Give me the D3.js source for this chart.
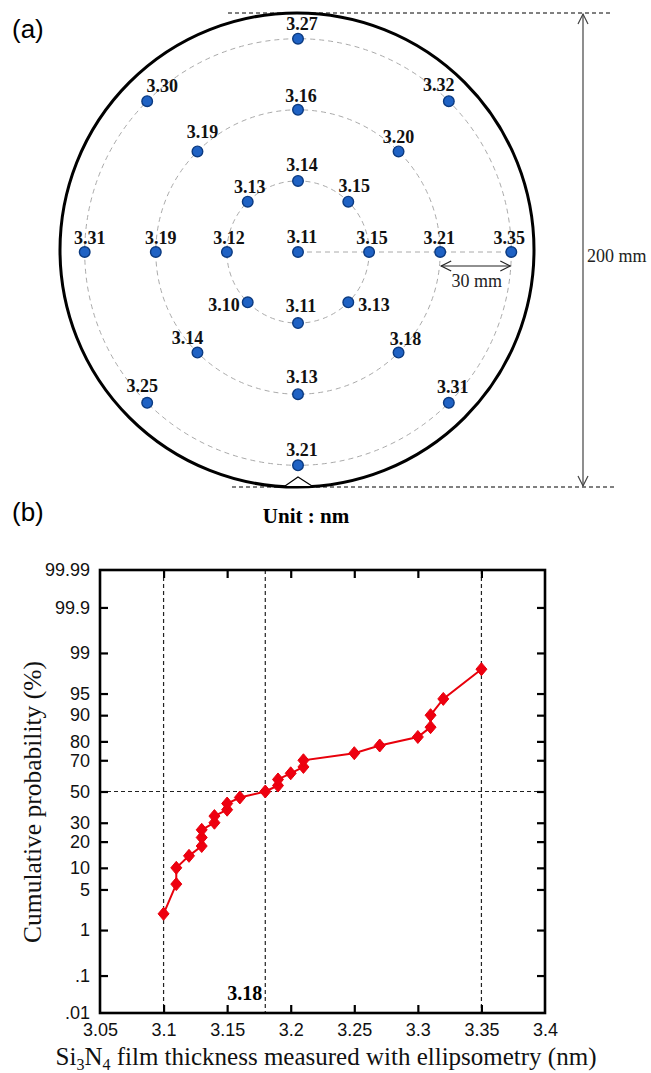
<!DOCTYPE html>
<html>
<head>
<meta charset="utf-8">
<script src="https://cdn.jsdelivr.net/npm/d3@7"></script>
<style>
  html, body { margin: 0; padding: 0; background: #fff; }
  svg { display: block; }
</style>
</head>
<body>
<svg id="chart" width="651" height="1073"></svg>
<script>
// ---------------- DATA ----------------
// (a) wafer map: measurement rings (mm from center) and angular positions (deg, CCW from east)
const ringsMM = [0, 30, 60, 90];
const anglesDeg = [90, 45, 0, -45, -90, -135, 180, 135];
const centerValues = [3.11];
const ring1Values = [3.14, 3.15, 3.15, 3.13, 3.11, 3.10, 3.12, 3.13];
const ring2Values = [3.16, 3.20, 3.21, 3.18, 3.13, 3.14, 3.19, 3.19];
const ring3Values = [3.27, 3.32, 3.35, 3.31, 3.21, 3.25, 3.31, 3.30];
const waferDiameterMM = 200;

// (b) cumulative probability plot
const thickness = [3.10, 3.11, 3.11, 3.12, 3.13, 3.13, 3.13, 3.14, 3.14, 3.15, 3.15, 3.16, 3.18,
                   3.19, 3.19, 3.20, 3.21, 3.21, 3.25, 3.27, 3.30, 3.31, 3.31, 3.32, 3.35];
const cumProb = [2, 6, 10, 14, 18, 22, 26, 30, 34, 38, 42, 46, 50,
                 54, 58, 62, 66, 70, 74, 78, 82, 86, 90, 94, 98];
const xTicks = [3.05, 3.1, 3.15, 3.2, 3.25, 3.3, 3.35, 3.4];
const xTickLabels = ["3.05", "3.1", "3.15", "3.2", "3.25", "3.3", "3.35", "3.4"];
const probTicks = [0.01, 0.1, 1, 5, 10, 20, 30, 50, 70, 80, 90, 95, 99, 99.9, 99.99];
const probTickLabels = [".01", ".1", "1", "5", "10", "20", "30", "50", "70", "80", "90", "95", "99", "99.9", "99.99"];
const refX = [3.1, 3.18, 3.35];
const refP = [50];
const medianLabel = "3.18";

// ---------------- LAYOUT (label nudges, px) ----------------
const labelNudge = [
  [[4, -9, "middle"]],
  [[4, -10, "middle"], [6, -10, "middle"], [3, -8, "middle"], [10, 9, "start"],
   [3, -11, "middle"], [-8, 9, "end"], [2, -8, "middle"], [2, -9, "middle"]],
  [[3, -8, "middle"], [0, -8, "middle"], [-1, -8, "middle"], [7, -8, "middle"],
   [4, -11, "middle"], [-10, -9, "middle"], [5, -8, "middle"], [5, -13, "middle"]],
  [[4, -9, "middle"], [-10, -10, "middle"], [-2, -8, "middle"], [4, -10, "middle"],
   [4, -9, "middle"], [-5, -11, "middle"], [5, -8, "middle"], [15, -9, "middle"]]
];

const svg = d3.select("#chart");
const serif = "'Liberation Serif','Times New Roman',serif";
const sans = "'Liberation Sans',Arial,Helvetica,sans-serif";

// ================= (a) =================
const gA = svg.append("g");
const cx = 298, cy = 252;          // measurement center
const wcx = 297, wcy = 250;        // wafer outline center
const rScale = d3.scaleLinear().domain([0, waferDiameterMM / 2]).range([0, 237]);

gA.append("text").attr("x", 12).attr("y", 38).attr("font-family", sans)
  .attr("font-size", 26).text("(a)");

// dashed measurement rings
gA.selectAll("circle.ring").data(ringsMM.slice(1)).enter().append("circle")
  .attr("cx", cx).attr("cy", cy).attr("r", d => rScale(d))
  .attr("fill", "none").attr("stroke", "#aaa").attr("stroke-width", 1)
  .attr("stroke-dasharray", "5,4");
gA.append("line").attr("x1", cx).attr("y1", cy)
  .attr("x2", cx + rScale(ringsMM[3])).attr("y2", cy)
  .attr("stroke", "#aaa").attr("stroke-width", 1).attr("stroke-dasharray", "5,4");

// wafer outline
gA.append("circle").attr("cx", wcx).attr("cy", wcy).attr("r", rScale(waferDiameterMM / 2))
  .attr("fill", "none").attr("stroke", "#000").attr("stroke-width", 3);
// notch
const nb = wcy + rScale(waferDiameterMM / 2);
gA.append("path")
  .attr("d", `M${wcx - 12},${nb - 1} L${wcx + 1},${nb - 10} L${wcx + 15},${nb - 1}`)
  .attr("fill", "#fff").attr("stroke", "#000").attr("stroke-width", 1.2);

// dimension lines (200 mm)
const yTop = wcy - rScale(waferDiameterMM / 2), yBot = wcy + rScale(waferDiameterMM / 2);
gA.append("line").attr("x1", 228).attr("x2", 612).attr("y1", yTop).attr("y2", yTop)
  .attr("stroke", "#000").attr("stroke-width", 1).attr("stroke-dasharray", "4,3");
gA.append("line").attr("x1", 232).attr("x2", 615).attr("y1", yBot).attr("y2", yBot)
  .attr("stroke", "#000").attr("stroke-width", 1).attr("stroke-dasharray", "4,3");
const ax = 583;
gA.append("line").attr("x1", ax).attr("x2", ax).attr("y1", yTop + 1).attr("y2", yBot - 1)
  .attr("stroke", "#444").attr("stroke-width", 1.2);
gA.append("path").attr("d", `M${ax - 5},${yTop + 11} L${ax},${yTop + 1} L${ax + 5},${yTop + 11}`)
  .attr("fill", "none").attr("stroke", "#444").attr("stroke-width", 1.2);
gA.append("path").attr("d", `M${ax - 5},${yBot - 11} L${ax},${yBot - 1} L${ax + 5},${yBot - 11}`)
  .attr("fill", "none").attr("stroke", "#444").attr("stroke-width", 1.2);
gA.append("text").attr("x", 587).attr("y", 262).attr("font-family", serif)
  .attr("font-size", 18).attr("fill", "#222").text(waferDiameterMM + " mm");

// 30 mm dimension
const x30a = cx + rScale(ringsMM[2]), x30b = cx + rScale(ringsMM[3]), y30 = 266;
gA.append("line").attr("x1", x30a + 1).attr("x2", x30b - 1).attr("y1", y30).attr("y2", y30)
  .attr("stroke", "#222").attr("stroke-width", 1.2);
gA.append("path").attr("d", `M${x30a + 11},${y30 - 5} L${x30a + 1},${y30} L${x30a + 11},${y30 + 5}`)
  .attr("fill", "none").attr("stroke", "#222").attr("stroke-width", 1.2);
gA.append("path").attr("d", `M${x30b - 11},${y30 - 5} L${x30b - 1},${y30} L${x30b - 11},${y30 + 5}`)
  .attr("fill", "none").attr("stroke", "#222").attr("stroke-width", 1.2);
gA.append("text").attr("x", (x30a + x30b) / 2 + 1).attr("y", 287).attr("text-anchor", "middle")
  .attr("font-family", serif).attr("font-size", 18).attr("fill", "#222")
  .text((ringsMM[3] - ringsMM[2]) + " mm");

// measurement points
const ringValues = [centerValues, ring1Values, ring2Values, ring3Values];
const pts = [];
ringValues.forEach((vals, ri) => {
  vals.forEach((v, ai) => {
    const a = anglesDeg[ai] * Math.PI / 180;
    const r = rScale(ringsMM[ri]);
    const nudge = labelNudge[ri][ai];
    pts.push({ v, x: cx + r * Math.cos(a), y: cy - r * Math.sin(a), dx: nudge[0], dy: nudge[1], anchor: nudge[2] });
  });
});
gA.selectAll("circle.pt").data(pts).enter().append("circle")
  .attr("cx", d => d.x).attr("cy", d => d.y).attr("r", 5.3)
  .attr("fill", "#1f62c4").attr("stroke", "#0b3a80").attr("stroke-width", 1.4);
gA.selectAll("text.pt").data(pts).enter().append("text")
  .attr("x", d => d.x + d.dx).attr("y", d => d.y + d.dy).attr("text-anchor", d => d.anchor)
  .attr("font-family", serif).attr("font-weight", "bold").attr("font-size", 18)
  .attr("fill", "#111").text(d => d.v.toFixed(2));

gA.append("text").attr("x", 306).attr("y", 523).attr("text-anchor", "middle")
  .attr("font-family", serif).attr("font-weight", "bold").attr("font-size", 21)
  .text("Unit : nm");

// ================= (b) =================
const gB = svg.append("g");
gB.append("text").attr("x", 12).attr("y", 521).attr("font-family", sans)
  .attr("font-size", 26).text("(b)");

// inverse normal CDF (Acklam)
function probit(p) {
  const a = [-3.969683028665376e+01, 2.209460984245205e+02, -2.759285104469687e+02,
             1.383577518672690e+02, -3.066479806614716e+01, 2.506628277459239e+00];
  const b = [-5.447609879822406e+01, 1.615858368580409e+02, -1.556989798598866e+02,
             6.680131188771972e+01, -1.328068155288572e+01];
  const c = [-7.784894002430293e-03, -3.223964580411365e-01, -2.400758277161838e+00,
             -2.549671010243780e+00, 4.374664141464968e+00, 2.938163982698783e+00];
  const d = [7.784695709041462e-03, 3.224671290700398e-01, 2.445134137142996e+00,
             3.754408661907416e+00];
  const pl = 0.02425, ph = 1 - pl;
  let q, r;
  if (p < pl) {
    q = Math.sqrt(-2 * Math.log(p));
    return (((((c[0]*q+c[1])*q+c[2])*q+c[3])*q+c[4])*q+c[5]) / ((((d[0]*q+d[1])*q+d[2])*q+d[3])*q+1);
  } else if (p <= ph) {
    q = p - 0.5; r = q * q;
    return (((((a[0]*r+a[1])*r+a[2])*r+a[3])*r+a[4])*r+a[5])*q / (((((b[0]*r+b[1])*r+b[2])*r+b[3])*r+b[4])*r+1);
  } else {
    q = Math.sqrt(-2 * Math.log(1 - p));
    return -(((((c[0]*q+c[1])*q+c[2])*q+c[3])*q+c[4])*q+c[5]) / ((((d[0]*q+d[1])*q+d[2])*q+d[3])*q+1);
  }
}
const z = pct => probit(pct / 100);

const L = 100, R = 545, T = 570, B = 1013;
const x = d3.scaleLinear().domain([xTicks[0], xTicks[xTicks.length - 1]]).range([L, R]);
const y = d3.scaleLinear().domain([z(probTicks[0]), z(probTicks[probTicks.length - 1])]).range([B, T]);

// reference dashed lines
gB.selectAll("line.vref").data(refX).enter().append("line")
  .attr("x1", d => x(d)).attr("x2", d => x(d)).attr("y1", T).attr("y2", B)
  .attr("stroke", "#222").attr("stroke-width", 1.2).attr("stroke-dasharray", "4,3");
gB.selectAll("line.href").data(refP).enter().append("line")
  .attr("x1", L).attr("x2", R).attr("y1", d => y(z(d))).attr("y2", d => y(z(d)))
  .attr("stroke", "#222").attr("stroke-width", 1.2).attr("stroke-dasharray", "4,3");

// axes
const xInner = xTicks.slice(1, -1);
const yInner = probTicks.slice(1, -1).map(z);
function styleAxis(g) {
  g.select(".domain").remove();
  g.selectAll(".tick line").attr("stroke", "#000").attr("stroke-width", 2.2);
  g.selectAll(".tick text").attr("font-family", sans).attr("font-size", 18).attr("fill", "#111");
}
const xAxisB = d3.axisBottom(x).tickValues(xTicks).tickSizeInner(-8).tickSizeOuter(0).tickPadding(10)
  .tickFormat((d, i) => xTickLabels[i]);
gB.append("g").attr("transform", `translate(0,${B})`).call(xAxisB).call(styleAxis)
  .call(g => g.selectAll(".tick line").filter(d => d === xTicks[0] || d === xTicks[xTicks.length - 1]).remove());
gB.append("g").attr("transform", `translate(0,${T})`)
  .call(d3.axisTop(x).tickValues(xInner).tickSizeInner(-8).tickSizeOuter(0).tickFormat(""))
  .call(styleAxis);
const yAxisL = d3.axisLeft(y).tickValues(probTicks.map(z)).tickSizeInner(-8).tickSizeOuter(0).tickPadding(10)
  .tickFormat((d, i) => probTickLabels[i]);
gB.append("g").attr("transform", `translate(${L},0)`).call(yAxisL).call(styleAxis)
  .call(g => g.selectAll(".tick line").filter((d, i) => i === 0 || i === probTicks.length - 1).remove());
gB.append("g").attr("transform", `translate(${R},0)`)
  .call(d3.axisRight(y).tickValues(yInner).tickSizeInner(-8).tickSizeOuter(0).tickFormat(""))
  .call(styleAxis);

// frame
gB.append("rect").attr("x", L).attr("y", T).attr("width", R - L).attr("height", B - T)
  .attr("fill", "none").attr("stroke", "#000").attr("stroke-width", 2.6);

// median label
gB.append("text").attr("x", x(3.18) - 3).attr("y", 1000).attr("text-anchor", "end")
  .attr("font-family", serif).attr("font-weight", "bold").attr("font-size", 20).text(medianLabel);

// data line + diamonds
const series = thickness.map((t, i) => ({ t, p: cumProb[i] }));
gB.append("path").datum(series)
  .attr("d", d3.line().x(d => x(d.t)).y(d => y(z(d.p))))
  .attr("fill", "none").attr("stroke", "#e8000b").attr("stroke-width", 2);
gB.selectAll("path.mk").data(series).enter().append("path")
  .attr("transform", d => `translate(${x(d.t)},${y(z(d.p))})`)
  .attr("d", "M0,-6.5 L5.5,0 L0,6.5 L-5.5,0 Z")
  .attr("fill", "#ee0010").attr("stroke", "#e8000b").attr("stroke-width", 1);

// axis titles
const xt = gB.append("text").attr("x", 326).attr("y", 1065).attr("text-anchor", "middle")
  .attr("font-family", serif).attr("font-size", 25).attr("fill", "#111");
xt.append("tspan").text("Si");
xt.append("tspan").attr("font-size", 16).attr("dy", 5).text("3");
xt.append("tspan").attr("dy", -5).text("N");
xt.append("tspan").attr("font-size", 16).attr("dy", 5).text("4");
xt.append("tspan").attr("dy", -5).text(" film thickness measured with ellipsometry (nm)");

gB.append("text").attr("transform", `translate(41,802) rotate(-90)`).attr("text-anchor", "middle")
  .attr("font-family", serif).attr("font-size", 25.5).attr("fill", "#111")
  .text("Cumulative probability (%)");
</script>
</body>
</html>
